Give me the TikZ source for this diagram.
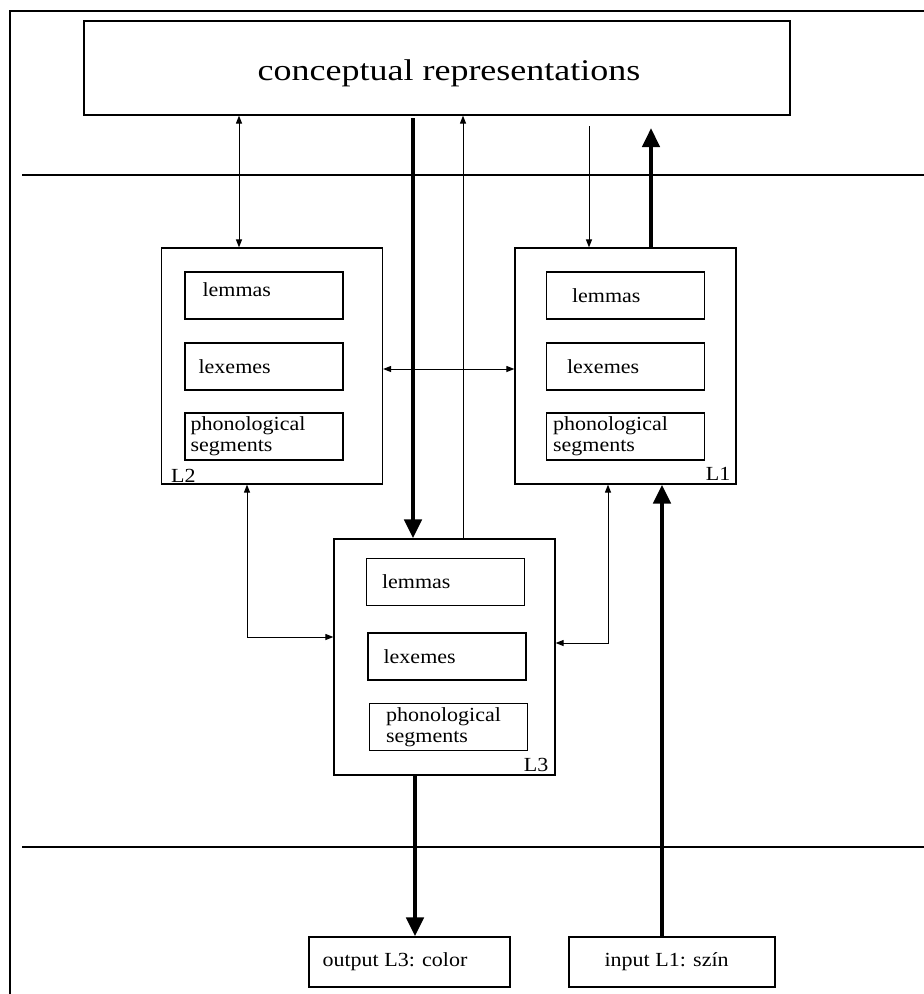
\documentclass[tikz,border=0pt]{standalone}
\usepackage{fontspec}
\setmainfont[FakeStretch=1.1]{Liberation Serif}
\newfontfamily\headfont[FakeStretch=1.2]{Liberation Serif}
\usetikzlibrary{arrows.meta}

\tikzset{
  frame/.style={line width=2pt},
  rule/.style={line width=1.2pt},
  panel/.style={draw, line width=1.2pt, minimum width=221, minimum height=236, inner sep=0},
  item/.style={draw, line width=1.2pt, minimum width=158, minimum height=47, inner sep=0},
  iobox/.style={draw, line width=1.2pt, minimum height=50, inner sep=0},
  txt/.style={inner sep=0, align=left, font=\fontsize{20}{21}\selectfont},
  linkarr/.style={line width=1pt, -{Triangle[length=8pt,width=6pt]}},
  bothlink/.style={line width=1pt, {Triangle[length=8pt,width=6pt]}-{Triangle[length=8pt,width=6pt]}},
  heavyarr/.style={line width=4.5pt, -{Triangle[length=19pt,width=17pt]}}
}

\begin{document}
\begin{tikzpicture}[x=1pt,y=-1pt]
\useasboundingbox (0,0) rectangle (924,994);
\clip (0,0) rectangle (924,994);

%% outer frame (right and bottom edges fall off the page)
\draw[frame] (10,1010) |- (940,11);

%% level rules
\draw[rule] (22,175) -- (940,175);
\draw[rule] (22,847) -- (940,847);

%% top box
\node[draw, line width=1.2pt, minimum width=706, minimum height=94, inner sep=0] (concept) at (437,68) {};
\node[inner sep=0, font=\headfont\fontsize{30}{32}\selectfont] (conceptT) at ([xshift=12pt,yshift=-5pt]concept.center) {conceptual representations};

%% L2 lexicon
\node[panel] (l2) at (272,366) {};
\node[item] (l2lem) at (264,295.5) {};
\node[item] (l2lex) at (264,366.5) {};
\node[item] (l2pho) at (264,436.5) {};
\node[txt, anchor=west] (l2lemT) at ([xshift=18pt,yshift=6pt]l2lem.west) {lemmas};
\node[txt, anchor=west] (l2lexT) at ([xshift=14pt]l2lex.west) {lexemes};
\node[txt, anchor=west] (l2phoT) at ([xshift=6pt]l2pho.west) {phonological\\segments};
\node[txt, anchor=base west] (l2T) at ([xshift=10pt,yshift=2pt]l2.south west) {L2};

%% L1 lexicon
\node[panel] (l1) at (625.5,366) {};
\node[item] (l1lem) at (625.5,295.5) {};
\node[item] (l1lex) at (625.5,366.5) {};
\node[item] (l1pho) at (625.5,436.5) {};
\node[txt, anchor=west] (l1lemT) at ([xshift=26pt]l1lem.west) {lemmas};
\node[txt, anchor=west] (l1lexT) at ([xshift=21pt]l1lex.west) {lexemes};
\node[txt, anchor=west] (l1phoT) at ([xshift=7pt]l1pho.west) {phonological\\segments};
\node[txt, anchor=base east] (l1T) at ([xshift=-6pt,yshift=4pt]l1.south east) {L1};

%% L3 lexicon
\node[panel] (l3) at (444.5,657) {};
\node[item] (l3lem) at (445.5,582) {};
\node[item] (l3lex) at (447,656.5) {};
\node[item] (l3pho) at (448.5,727) {};
\node[txt, anchor=west] (l3lemT) at ([xshift=16pt]l3lem.west) {lemmas};
\node[txt, anchor=west] (l3lexT) at ([xshift=16pt]l3lex.west) {lexemes};
\node[txt, anchor=west] (l3phoT) at ([xshift=17pt]l3pho.west) {phonological\\segments};
\node[txt, anchor=base east] (l3T) at ([xshift=-7pt,yshift=4pt]l3.south east) {L3};

%% input / output
\node[iobox, minimum width=201] (out) at (409.5,962) {};
\node[txt, anchor=west] (outT) at ([xshift=14pt]out.west) {output L3: color};
\node[iobox, minimum width=206] (in) at (672,962) {};
\node[txt, anchor=west] (inT) at ([xshift=36pt]in.west) {input L1: szín};

%% columns for the links
\coordinate (cA) at (239,0);
\coordinate (cB) at (413,118);
\coordinate (cC) at (463,0);
\coordinate (cD) at (589,126);
\coordinate (cE) at (651,128);
\coordinate (cF) at (247,637);
\coordinate (cG) at (608,643);
\coordinate (cH) at (415,0);
\coordinate (cI) at (662,0);
\coordinate (cJ) at (0,369);

%% links
\draw[bothlink] (concept.south -| cA) -- (l2.north -| cA);
\draw[heavyarr] (cB) -- (l3.north -| cB);
\draw[linkarr] (l3.north -| cC) -- (concept.south -| cC);
\draw[linkarr] (cD) -- (l1.north -| cD);
\draw[heavyarr] (l1.north -| cE) -- (cE);
\draw[bothlink] (l2.east |- cJ) -- (l1.west |- cJ);
\draw[bothlink] (l2.south -| cF) |- (l3.west |- cF);
\draw[bothlink] (l1.south -| cG) |- (l3.east |- cG);
\draw[heavyarr] (l3.south -| cH) -- (out.north -| cH);
\draw[heavyarr] (in.north -| cI) -- (l1.south -| cI);

\end{tikzpicture}
\end{document}
